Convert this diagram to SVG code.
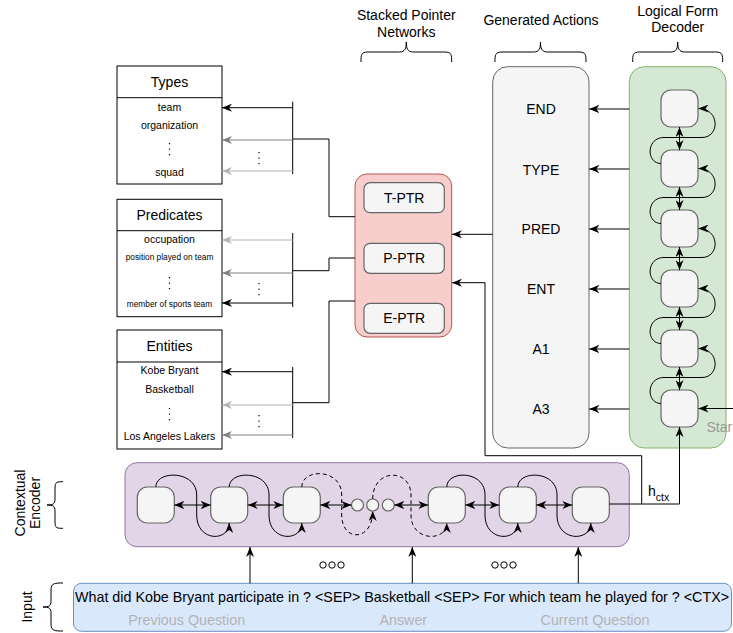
<svg xmlns="http://www.w3.org/2000/svg" width="733" height="633" viewBox="0 0 733 633">
<style>
text{font-family:"Liberation Sans",Arial,Helvetica,sans-serif;fill:#000}
.box{fill:#fff;stroke:#000;stroke-width:1}
.sep{stroke:#000;stroke-width:1}
.hdr{font-size:14px;text-anchor:middle}
.item{font-size:10.5px;text-anchor:middle}
.small{font-size:8.3px;text-anchor:middle}
.mid{text-anchor:middle;font-size:14px}
.node{fill:#f5f5f5;stroke:#666;stroke-width:1.2}
.ln{fill:none;stroke:#000;stroke-width:1}
.lg{fill:none;stroke:#808080;stroke-width:1}
.ll{fill:none;stroke:#b3b3b3;stroke-width:1}
.dots{stroke:#000;stroke-width:1.2;stroke-dasharray:1.3 4.2;fill:none}
.ae{marker-end:url(#ah)}
.aeg{marker-end:url(#ahg)}
.ael{marker-end:url(#ahl)}
.ab{marker-start:url(#ah);marker-end:url(#ah)}
.dash{stroke-dasharray:4 3}
.gray{fill:#b3b3b3}
</style>
<defs>
<marker id="ah" viewBox="0 0 10 8" refX="10" refY="4" markerWidth="10" markerHeight="8" markerUnits="userSpaceOnUse" orient="auto-start-reverse"><path d="M0,0 L10,4 L0,8 L3,4 z" fill="#000"/></marker>
<marker id="ahg" viewBox="0 0 10 8" refX="10" refY="4" markerWidth="10" markerHeight="8" markerUnits="userSpaceOnUse" orient="auto"><path d="M0,0 L10,4 L0,8 L3,4 z" fill="#808080"/></marker>
<marker id="ahl" viewBox="0 0 10 8" refX="10" refY="4" markerWidth="10" markerHeight="8" markerUnits="userSpaceOnUse" orient="auto"><path d="M0,0 L10,4 L0,8 L3,4 z" fill="#b3b3b3"/></marker>
</defs>

<g id="titles">
<text class="mid" x="406.3" y="20">Stacked Pointer</text>
<text class="mid" x="406.3" y="37">Networks</text>
<text class="mid" x="541" y="25">Generated Actions</text>
<text class="mid" x="677.7" y="16">Logical Form</text>
<text class="mid" x="677.7" y="32">Decoder</text>
<path class="ln" d="M361,62 C361,55 361,52 368,52 L399.3,52 C405.3,52 406.3,48 406.3,42 C406.3,48 407.3,52 413.3,52 L444.7,52 C451.7,52 451.7,55 451.7,62"/>
<path class="ln" d="M495,62 C495,55 495,52 502,52 L533.5,52 C539.5,52 540.5,48 540.5,42 C540.5,48 541.5,52 547.5,52 L579,52 C586,52 586,55 586,62"/>
<path class="ln" d="M632.7,62 C632.7,55 632.7,52 639.7,52 L670.7,52 C676.7,52 677.7,48 677.7,42 C677.7,48 678.7,52 684.7,52 L715.7,52 C722.7,52 722.7,55 722.7,62"/>
<text class="mid" transform="rotate(-90 19.5 503)" x="19.5" y="508">Contextual</text>
<text class="mid" transform="rotate(-90 34.5 503)" x="34.5" y="508">Encoder</text>
<path class="ln" d="M63,481.7 C57,481.7 55,481.7 55,488 L55,499 C55,504 53,505 47,505 C53,505 55,506 55,511 L55,522 C55,528.3 57,528.3 63,528.3"/>
<text class="mid" transform="rotate(-90 26.7 607)" x="26.7" y="612">Input</text>
<path class="ln" d="M63,583 C55,583 51,583 51,590 L51,601 C51,606 49,607 43,607 C49,607 51,608 51,613 L51,624 C51,631 55,631 63,631"/>
</g>

<g id="types">
<rect class="box" x="117" y="66" width="105" height="118"/>
<line class="sep" x1="117" y1="97.7" x2="222" y2="97.7"/>
<text class="hdr" x="169.5" y="87">Types</text>
<text class="item" x="169.5" y="110.5">team</text>
<text class="item" x="169.5" y="129">organization</text>
<line class="dots" x1="169.5" y1="143" x2="169.5" y2="158"/>
<text class="item" x="169.5" y="176">squad</text>
</g>

<g id="predicates">
<rect class="box" x="117" y="199.3" width="105" height="117.4"/>
<line class="sep" x1="117" y1="230.7" x2="222" y2="230.7"/>
<text class="hdr" x="169.5" y="220">Predicates</text>
<text class="item" x="169.5" y="243">occupation</text>
<text class="small" x="169.5" y="260.3">position played on team</text>
<line class="dots" x1="169.5" y1="277" x2="169.5" y2="292"/>
<text class="small" x="169.5" y="307">member of sports team</text>
</g>

<g id="entities">
<rect class="box" x="117" y="330" width="105" height="119"/>
<line class="sep" x1="117" y1="362" x2="222" y2="362"/>
<text class="hdr" x="169.5" y="351">Entities</text>
<text class="item" x="169.5" y="374">Kobe Bryant</text>
<text class="item" x="169.5" y="393">Basketball</text>
<line class="dots" x1="169.5" y1="408" x2="169.5" y2="423"/>
<text class="item" x="169.5" y="440">Los Angeles Lakers</text>
</g>

<g id="pointer-networks">
<rect x="355" y="174" width="96.7" height="163" rx="12" fill="#f8cecc" stroke="#b85450"/>
<rect class="node" x="364" y="182.7" width="80.3" height="30" rx="6"/>
<text class="mid" x="404.2" y="202.7">T-PTR</text>
<rect class="node" x="364" y="243.3" width="80.3" height="30" rx="6"/>
<text class="mid" x="404.2" y="263.3">P-PTR</text>
<rect class="node" x="364" y="303.3" width="80.3" height="30" rx="6"/>
<text class="mid" x="404.2" y="323.3">E-PTR</text>
</g>

<g id="generated-actions">
<rect x="492.7" y="66.7" width="96.3" height="381.3" rx="15" fill="#f5f5f5" stroke="#666"/>
<text class="mid" x="541" y="114">END</text>
<text class="mid" x="541" y="174.5">TYPE</text>
<text class="mid" x="541" y="234.3">PRED</text>
<text class="mid" x="541" y="294.3">ENT</text>
<text class="mid" x="541" y="354.3">A1</text>
<text class="mid" x="541" y="414.3">A3</text>
</g>

<g id="decoder">
<rect x="629.3" y="66.7" width="96.7" height="381.3" rx="15" fill="#d5e8d4" stroke="#82b366"/>
<rect class="node" x="661" y="90" width="37" height="37" rx="10"/>
<rect class="node" x="661" y="150" width="37" height="37" rx="10"/>
<rect class="node" x="661" y="210" width="37" height="37" rx="10"/>
<rect class="node" x="661" y="270" width="37" height="37" rx="10"/>
<rect class="node" x="661" y="330" width="37" height="37" rx="10"/>
<rect class="node" x="661" y="390" width="37" height="37" rx="10"/>
<text x="706.5" y="431.7" font-size="14" style="fill:#999">Star</text>
</g>

<g id="encoder">
<rect x="125" y="462.7" width="504.3" height="84" rx="12" fill="#e1d5e7" stroke="#9673a6"/>
<rect class="node" x="137.3" y="487" width="37" height="36" rx="10"/>
<rect class="node" x="210.7" y="487" width="37" height="36" rx="10"/>
<rect class="node" x="283.3" y="487" width="37" height="36" rx="10"/>
<circle class="node" cx="357.5" cy="505" r="6"/>
<circle class="node" cx="372.7" cy="505" r="6"/>
<circle class="node" cx="388.3" cy="505" r="6"/>
<rect class="node" x="428.3" y="487" width="37" height="36" rx="10"/>
<rect class="node" x="499.3" y="487" width="37" height="36" rx="10"/>
<rect class="node" x="572.3" y="487" width="37" height="36" rx="10"/>
<text x="648" y="495.5" font-size="14">h<tspan font-size="10.5" dy="5">ctx</tspan></text>
</g>

<g id="input">
<rect x="73.5" y="583.3" width="658" height="48" rx="8" fill="#dae8fc" stroke="#6c8ebf"/>
<text x="75" y="601.7" font-size="14.3">What did Kobe Bryant participate in ? &lt;SEP&gt; Basketball &lt;SEP&gt; For which team he played for ? &lt;CTX&gt;</text>
<text class="gray" x="186.7" y="625" font-size="14.3" text-anchor="middle">Previous Question</text>
<text class="gray" x="403.3" y="625" font-size="14.3" text-anchor="middle">Answer</text>
<text class="gray" x="595" y="625" font-size="14.3" text-anchor="middle">Current Question</text>
<g fill="none" stroke="#000" stroke-width="1">
<circle cx="323" cy="565" r="3.2"/><circle cx="332" cy="565" r="3.2"/><circle cx="341" cy="565" r="3.2"/>
<circle cx="495" cy="565" r="3.2"/><circle cx="504" cy="565" r="3.2"/><circle cx="513" cy="565" r="3.2"/>
</g>
</g>

<g id="connectors">
<line class="ln" x1="292.7" y1="101.7" x2="292.7" y2="174"/>
<line class="ln ae" x1="292.7" y1="107.7" x2="222" y2="107.7"/>
<line class="lg aeg" x1="292.7" y1="140" x2="222" y2="140"/>
<line class="ll ael" x1="292.7" y1="171" x2="222" y2="171"/>
<line class="dots" x1="259" y1="152" x2="259" y2="167"/>
<polyline class="ln" points="292.7,139 329,139 329,216.7 355,216.7"/>
<line class="ln" x1="292.7" y1="233" x2="292.7" y2="307"/>
<line class="ll ael" x1="292.7" y1="240" x2="222" y2="240"/>
<line class="lg aeg" x1="292.7" y1="273" x2="222" y2="273"/>
<line class="ln ae" x1="292.7" y1="303" x2="222" y2="303"/>
<line class="dots" x1="259" y1="283" x2="259" y2="298"/>
<polyline class="ln" points="292.7,270.7 329,270.7 329,258 355,258"/>
<line class="ln" x1="292.7" y1="367" x2="292.7" y2="438"/>
<line class="ln ae" x1="292.7" y1="371.7" x2="222" y2="371.7"/>
<line class="ll ael" x1="292.7" y1="405" x2="222" y2="405"/>
<line class="lg aeg" x1="292.7" y1="435" x2="222" y2="435"/>
<line class="dots" x1="259" y1="415" x2="259" y2="430"/>
<polyline class="ln" points="292.7,402.7 329,402.7 329,301 355,301"/>
<line class="ln ae" x1="492.7" y1="234.3" x2="452" y2="234.3"/>
<polyline class="ln ae" points="641.7,504 641.7,455.7 485,455.7 485,282.7 452,282.7"/>
<line class="ln ae" x1="629.3" y1="109" x2="589.3" y2="109"/>
<line class="ln ae" x1="629.3" y1="169" x2="589.3" y2="169"/>
<line class="ln ae" x1="629.3" y1="229" x2="589.3" y2="229"/>
<line class="ln ae" x1="629.3" y1="289" x2="589.3" y2="289"/>
<line class="ln ae" x1="629.3" y1="349" x2="589.3" y2="349"/>
<line class="ln ae" x1="629.3" y1="409" x2="589.3" y2="409"/>
<line class="ln ab" x1="679.5" y1="127" x2="679.5" y2="150"/>
<line class="ln ab" x1="679.5" y1="187" x2="679.5" y2="210"/>
<line class="ln ab" x1="679.5" y1="247" x2="679.5" y2="270"/>
<line class="ln ab" x1="679.5" y1="307" x2="679.5" y2="330"/>
<line class="ln ab" x1="679.5" y1="367" x2="679.5" y2="390"/>
<path class="ln ae" d="M661,163.5 C646,163.5 646,137.5 664,137.5 L702,137.5 C720,137.5 720,108.5 698.5,108.5"/>
<path class="ln ae" d="M661,223.5 C646,223.5 646,197.5 664,197.5 L702,197.5 C720,197.5 720,168.5 698.5,168.5"/>
<path class="ln ae" d="M661,283.5 C646,283.5 646,257.5 664,257.5 L702,257.5 C720,257.5 720,228.5 698.5,228.5"/>
<path class="ln ae" d="M661,343.5 C646,343.5 646,317.5 664,317.5 L702,317.5 C720,317.5 720,288.5 698.5,288.5"/>
<path class="ln ae" d="M661,403.5 C646,403.5 646,377.5 664,377.5 L702,377.5 C720,377.5 720,348.5 698.5,348.5"/>
<line class="ln ae" x1="733" y1="408.5" x2="698.5" y2="408.5"/>
<polyline class="ln ae" points="609.3,504 679.5,504 679.5,427"/>
<line class="ln ab" x1="174.3" y1="505" x2="210.7" y2="505"/>
<line class="ln ab" x1="247.7" y1="505" x2="283.3" y2="505"/>
<line class="ln ab" x1="320.3" y1="505" x2="351.5" y2="505"/>
<line class="ln ab" x1="394.3" y1="505" x2="428.3" y2="505"/>
<line class="ln ab" x1="465.3" y1="505" x2="499.3" y2="505"/>
<line class="ln ab" x1="536.3" y1="505" x2="572.3" y2="505"/>
<path class="ln ae" d="M155.8,487 C155.8,470 196.7,470 196.7,495 L196.7,515 C196.7,542 229.2,542 229.2,523"/>
<path class="ln ae" d="M229.2,487 C229.2,470 269,470 269,495 L269,515 C269,542 301.8,542 301.8,523"/>
<path class="ln ae dash" d="M301.8,487 C301.8,468 341.7,468 341.7,495 L341.7,515 C341.7,542 372.7,542 372.7,511"/>
<path class="ln ae dash" d="M372.7,499 C372.7,468 411,468 411,495 L411,515 C411,542 446.8,542 446.8,523"/>
<path class="ln ae" d="M446.8,487 C446.8,470 485,470 485,495 L485,515 C485,542 517.8,542 517.8,523"/>
<path class="ln ae" d="M517.8,487 C517.8,470 557,470 557,495 L557,515 C557,542 590.8,542 590.8,523"/>
<line class="ln ae" x1="250" y1="583.3" x2="250" y2="547"/>
<line class="ln ae" x1="412.3" y1="583.3" x2="412.3" y2="547"/>
<line class="ln ae" x1="578.3" y1="583.3" x2="578.3" y2="547"/>
</g>
</svg>
